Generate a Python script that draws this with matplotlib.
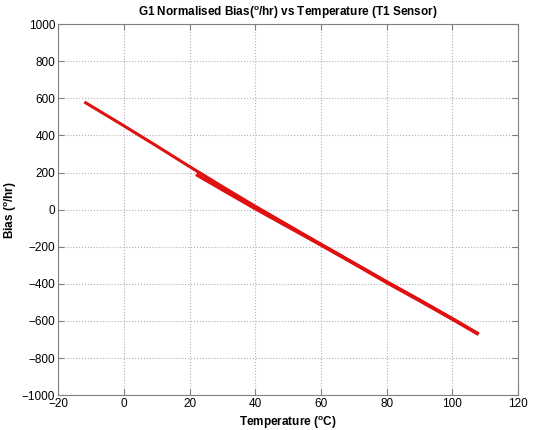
import numpy as np
import matplotlib
matplotlib.use('Agg')
import matplotlib.pyplot as plt

plt.rcParams['font.family'] = ['Liberation Sans', 'DejaVu Sans']
plt.rcParams['mathtext.fontset'] = 'custom'
plt.rcParams['mathtext.rm'] = 'Liberation Sans'
plt.rcParams['mathtext.bf'] = 'Liberation Sans:bold'

# heating run (-12 -> 108 degC)
heat_t = [-12, 0, 10, 20, 30, 40, 50, 60, 70, 80, 90, 100, 108]
heat_b = [580, 452, 343, 232, 124, 18, -84, -186, -287, -388, -486, -587, -670]
# cooling run (108 -> 22 degC), a touch lower at the cold end
cool_t = [108, 100, 90, 80, 70, 60, 50, 40, 30, 22]
cool_b = [-672, -590, -490, -392, -290, -190, -92, 6, 108, 190]

fig = plt.figure(figsize=(5.33, 4.30), dpi=100)
ax = fig.add_axes([0.109, 0.081, 0.863, 0.863])

ax.plot(heat_t, heat_b, color='#e01010', lw=2.2, solid_capstyle='butt')
ax.plot(cool_t, cool_b, color='#e01010', lw=2.6, solid_capstyle='butt')

ax.set_xlim(-20, 120)
ax.set_ylim(-1000, 1000)
ax.set_xticks(np.arange(-20, 121, 20))
ax.set_yticks(np.arange(-1000, 1001, 200))
ax.grid(True, linestyle=':', color='#b0b0b0', lw=0.8)
ax.tick_params(direction='in', labelsize=8.5, length=4, pad=2, color='#808080',
               top=True, right=True)
for s in ax.spines.values():
    s.set_color('#808080')

ax.set_title(r'G1 Normalised Bias($^{\mathbf{o}}$/hr) vs Temperature (T1 Sensor)',
             fontsize=8.5, fontweight='bold', pad=6)
ax.set_xlabel(r'Temperature ($^{\mathbf{o}}$C)', fontsize=8.5, fontweight='bold', labelpad=3)
ax.set_ylabel(r'Bias ($^{\mathbf{o}}$/hr)', fontsize=8.5, fontweight='bold', labelpad=2)

fig.savefig('out.png', dpi=100)
